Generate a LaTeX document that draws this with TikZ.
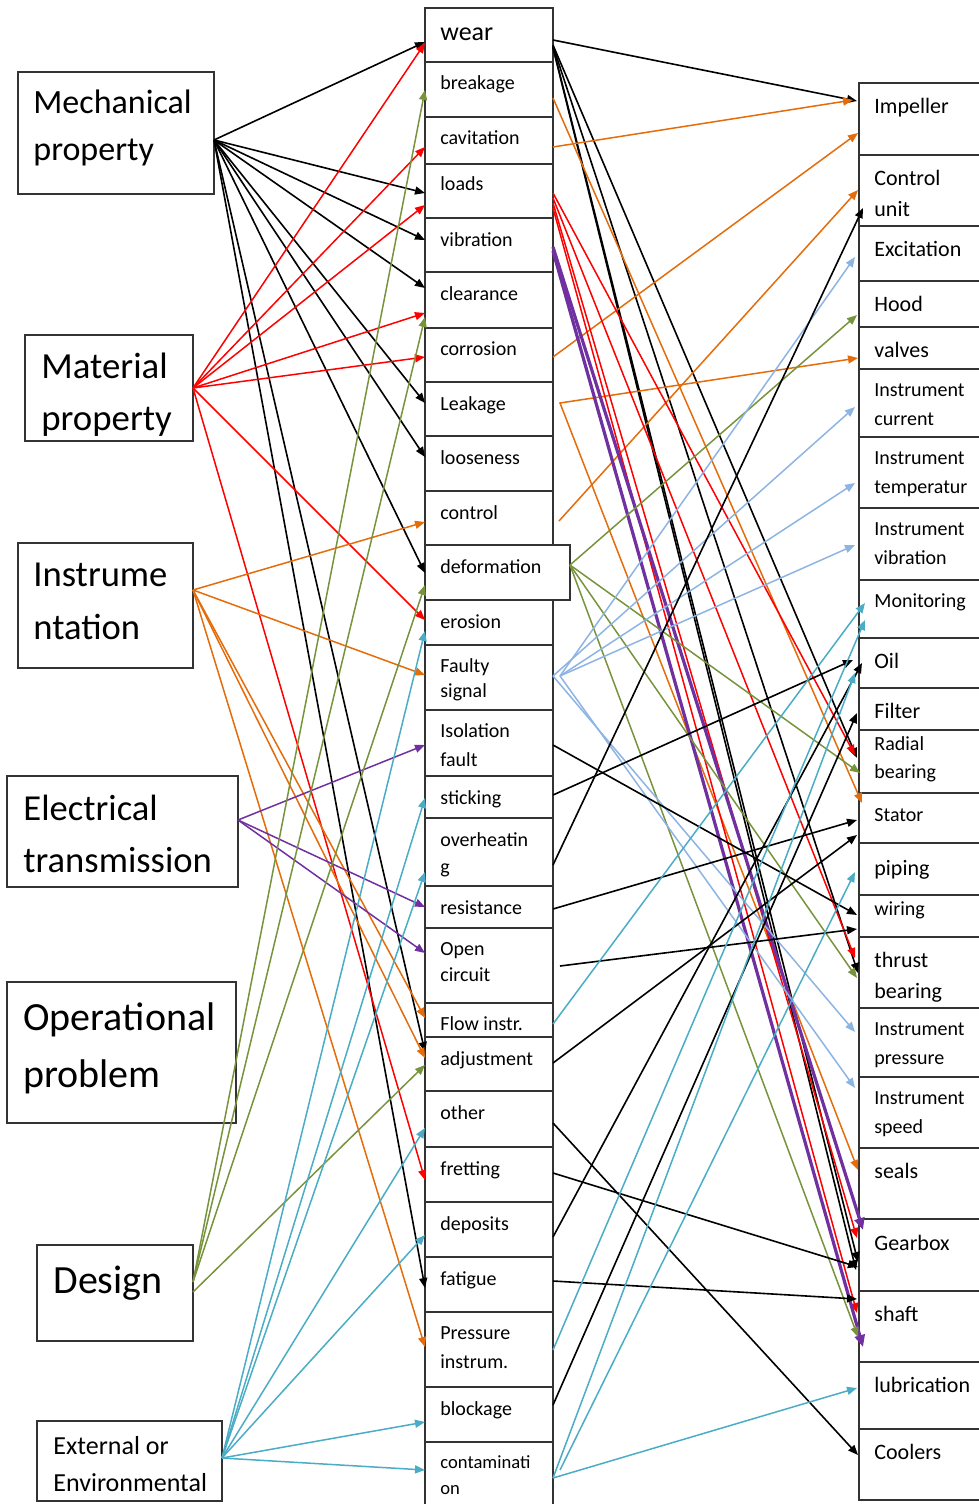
\documentclass[tikz,border=0pt]{standalone}
\usepackage{fontspec}
\setmainfont{Carlito}
\usetikzlibrary{arrows.meta,calc}
\definecolor{cRed}{RGB}{255,0,0}
\definecolor{cOrange}{RGB}{228,108,10}
\definecolor{cGreen}{RGB}{119,147,60}
\definecolor{cPurple}{RGB}{112,48,160}
\definecolor{cCyan}{RGB}{75,172,198}
\definecolor{cLblue}{RGB}{141,180,226}
\newcommand\mkbox[5]{\node[box, minimum width=#4*0.5pt, minimum height=#5*0.5pt] (#1) at (#2,#3) {};}
\newcommand\lk[5]{\draw[#1] ($(#2)+(#3)$) -- ($(#4)+(#5)$);}
\tikzset{
  box/.style={draw=black!80, line width=0.7pt, fill=white, inner sep=0pt, outer sep=0pt, anchor=north west},
  con/.style={line width=0.75pt, -{Triangle[length=5pt,width=4pt]}},
  cbk/.style={con, color=black, line width=0.8pt},
  crd/.style={con, color=cRed},
  cor/.style={con, color=cOrange},
  cgr/.style={con, color=cGreen},
  cpu/.style={con, color=cPurple, line width=1.6pt, -{Triangle[length=6pt,width=5pt]}},
  cpt/.style={con, color=cPurple},
  ccy/.style={con, color=cCyan},
  clb/.style={con, color=cLblue},
  tm/.style={anchor=base west, inner sep=0pt, font=\fontsize{10}{12}\selectfont},
  tr/.style={anchor=base west, inner sep=0pt, font=\fontsize{11}{13}\selectfont},
  ti/.style={anchor=base west, inner sep=0pt, font=\fontsize{10}{12}\selectfont},
  tl/.style={anchor=base west, inner sep=0pt, font=\fontsize{18.3}{22}\selectfont},
}
\begin{document}
\begin{tikzpicture}[x=0.5pt,y=-0.5pt]
\useasboundingbox (0,0) rectangle (979,1504);
\begin{scope}
\clip (0,0) rectangle (979,1504);
% ---------- left boxes ----------
\mkbox{mp}{18}{72}{196}{122}
\mkbox{mat}{25}{335}{168}{106}
\mkbox{ins}{18}{543}{175}{125}
\mkbox{el}{7}{776}{231}{111}
\mkbox{op}{7}{982}{229}{141}
\mkbox{des}{37}{1245}{156}{96}
\mkbox{ext}{37}{1421}{185}{80}
% ---------- middle column ----------
\mkbox{wear}{425}{8}{128}{54}
\mkbox{brk}{425}{62}{128}{55}
\mkbox{cav}{425}{117}{128}{47}
\mkbox{lds}{425}{164}{128}{54}
\mkbox{vib}{425}{218}{128}{54}
\mkbox{clr}{425}{272}{128}{56}
\mkbox{cor}{425}{328}{128}{54}
\mkbox{leak}{425}{382}{128}{54}
\mkbox{loose}{425}{436}{128}{55}
\mkbox{ctrl}{425}{491}{128}{54}
\mkbox{ero}{425}{600}{128}{45}
\mkbox{fs}{425}{645}{128}{65}
\mkbox{iso}{425}{710}{128}{66}
\mkbox{stk}{425}{776}{128}{42}
\mkbox{ovh}{425}{818}{128}{68}
\mkbox{res}{425}{886}{128}{42}
\mkbox{opn}{425}{928}{128}{75}
\mkbox{flw}{425}{1003}{128}{34}
\mkbox{adj}{425}{1037}{128}{54}
\mkbox{oth}{425}{1091}{128}{56}
\mkbox{frt}{425}{1147}{128}{55}
\mkbox{dep}{425}{1202}{128}{55}
\mkbox{fat}{425}{1257}{128}{55}
\mkbox{prs}{425}{1312}{128}{75}
\mkbox{blk}{425}{1387}{128}{55}
\mkbox{cnt}{425}{1442}{128}{70}
\mkbox{def}{425}{545}{145}{55}
% ---------- right column ----------
\mkbox{imp}{859}{83}{140}{72}
\mkbox{cu}{859}{155}{140}{71}
\mkbox{exc}{859}{226}{140}{55}
\mkbox{hood}{859}{281}{140}{46}
\mkbox{valv}{859}{327}{140}{42}
\mkbox{icur}{859}{369}{140}{68}
\mkbox{itmp}{859}{437}{140}{71}
\mkbox{ivib}{859}{508}{140}{72}
\mkbox{mon}{859}{580}{140}{58}
\mkbox{oil}{859}{638}{140}{50}
\mkbox{filt}{859}{688}{140}{42}
\mkbox{rad}{859}{730}{140}{63}
\mkbox{stat}{859}{793}{140}{50}
\mkbox{pip}{859}{843}{140}{52}
\mkbox{wir}{859}{895}{140}{42}
\mkbox{thr}{859}{937}{140}{71}
\mkbox{iprs}{859}{1008}{140}{69}
\mkbox{ispd}{859}{1077}{140}{71}
\mkbox{seal}{859}{1148}{140}{71}
\mkbox{gear}{859}{1219}{140}{72}
\mkbox{shft}{859}{1291}{140}{71}
\mkbox{lub}{859}{1362}{140}{67}
\mkbox{cool}{859}{1429}{140}{71}
% ---------- labels: left ----------
\node[tl, font=\fontsize{17}{20}\selectfont] (l1a) at (33,114) {Mechanical};
\node[tl, font=\fontsize{17}{20}\selectfont] (l1b) at (33,161) {property};
\node[tl, font=\fontsize{18.4}{22}\selectfont] (l2a) at (41,378) {Material};
\node[tl, font=\fontsize{18.4}{22}\selectfont] (l2b) at (41,430) {property};
\node[tl] (l3a) at (33,586) {Instrume};
\node[tl] (l3b) at (33,639) {ntation};
\node[tl] (l4a) at (23,820) {Electrical};
\node[tl] (l4b) at (23,872) {transmission};
\node[tl, font=\fontsize{20}{24}\selectfont] (l5a) at (23,1030) {Operational};
\node[tl, font=\fontsize{20}{24}\selectfont] (l5b) at (23,1087) {problem};
\node[tl, font=\fontsize{20}{24}\selectfont] (l6a) at (53,1293) {Design};
\node[tl, font=\fontsize{13}{15}\selectfont] (l7a) at (53,1454) {External or};
\node[tl, font=\fontsize{13}{15}\selectfont] (l7b) at (53,1491) {Environmental};
% ---------- labels: middle ----------
\node[tm, font=\fontsize{13}{15}\selectfont] (m1) at (440,41) {wear};
\node[tm] (m2) at (440,90) {breakage};
\node[tm] (m3) at (440,144) {cavitation};
\node[tm] (m4) at (440,191) {loads};
\node[tm] (m5) at (440,246) {vibration};
\node[tm] (m6) at (440,300) {clearance};
\node[tm] (m7) at (440,355) {corrosion};
\node[tm] (m8) at (440,410) {Leakage};
\node[tm] (m9) at (440,464) {looseness};
\node[tm] (m10) at (440,519) {control};
\node[tm] (m11) at (440,573) {deformation};
\node[tm] (m12) at (440,628) {erosion};
\node[tm] (m13a) at (440,672) {Faulty};
\node[tm] (m13b) at (440,697) {signal};
\node[tm] (m14a) at (440,737) {Isolation};
\node[tm] (m14b) at (440,766) {fault};
\node[tm] (m15) at (440,804) {sticking};
\node[tm] (m16a) at (440,846) {overheatin};
\node[tm] (m16b) at (440,873) {g};
\node[tm] (m17) at (440,914) {resistance};
\node[tm] (m18a) at (440,955) {Open};
\node[tm] (m18b) at (440,981) {circuit};
\node[tm] (m19) at (440,1030) {Flow instr.};
\node[tm] (m20) at (440,1065) {adjustment};
\node[tm] (m21) at (440,1119) {other};
\node[tm] (m22) at (440,1175) {fretting};
\node[tm] (m23) at (440,1230) {deposits};
\node[tm] (m24) at (440,1285) {fatigue};
\node[tm] (m25a) at (440,1339) {Pressure};
\node[tm] (m25b) at (440,1368) {instrum.};
\node[tm] (m26) at (440,1415) {blockage};
\node[tm, font=\fontsize{9.3}{11}\selectfont] (m27a) at (440,1468) {contaminati};
\node[tm, font=\fontsize{9.3}{11}\selectfont] (m27b) at (440,1494) {on};
% ---------- labels: right ----------
\node[tr] (r1) at (874,113) {Impeller};
\node[tr] (r2a) at (874,185) {Control};
\node[tr] (r2b) at (874,216) {unit};
\node[tr] (r3) at (874,256) {Excitation};
\node[tr] (r4) at (874,311) {Hood};
\node[tr] (r5) at (874,357) {valves};
\node[ti] (r6a) at (874,396) {Instrument};
\node[ti] (r6b) at (874,425) {current};
\node[ti] (r7a) at (874,464) {Instrument};
\node[ti] (r7b) at (874,493) {temperatur};
\node[ti] (r8a) at (874,535) {Instrument};
\node[ti] (r8b) at (874,564) {vibration};
\node[ti] (r9) at (874,607) {Monitoring};
\node[tr] (r10) at (874,668) {Oil};
\node[tr] (r11) at (874,718) {Filter};
\node[ti] (r12a) at (874,750) {Radial};
\node[ti] (r12b) at (874,778) {bearing};
\node[ti] (r13) at (874,821) {Stator};
\node[tr] (r14) at (874,875) {piping};
\node[ti] (r15) at (874,915) {wiring};
\node[tr] (r16a) at (874,967) {thrust};
\node[tr] (r16b) at (874,998) {bearing};
\node[ti] (r17a) at (874,1035) {Instrument};
\node[ti] (r17b) at (874,1064) {pressure};
\node[ti] (r18a) at (874,1104) {Instrument};
\node[ti] (r18b) at (874,1133) {speed};
\node[tr] (r19) at (874,1178) {seals};
\node[tr] (r20) at (874,1250) {Gearbox};
\node[tr] (r21) at (874,1321) {shaft};
\node[tr] (r22) at (874,1392) {lubrication};
\node[tr] (r23) at (874,1459) {Coolers};
% ---------- left -> middle ----------
% Mechanical property
\lk{cbk}{mp.north east}{0,68}{wear.north west}{0,34}
\lk{cbk}{mp.north east}{0,68}{lds.north west}{0,29}
\lk{cbk}{mp.north east}{0,68}{vib.north west}{0,22}
\lk{cbk}{mp.north east}{0,68}{clr.north west}{0,16}
\lk{cbk}{mp.north east}{0,68}{leak.north west}{0,21}
\lk{cbk}{mp.north east}{0,68}{loose.north west}{0,21}
\lk{cbk}{mp.north east}{0,68}{def.north west}{0,28}
\lk{cbk}{mp.north east}{0,68}{adj.north west}{0,15}
\lk{cbk}{mp.north east}{0,68}{fat.north west}{0,31}
% Material property
\lk{crd}{mat.north east}{0,53}{wear.north west}{0,35}
\lk{crd}{mat.north east}{0,53}{cav.north west}{0,30}
\lk{crd}{mat.north east}{0,53}{lds.north west}{0,41}
\lk{crd}{mat.north east}{0,53}{clr.north west}{0,41}
\lk{crd}{mat.north east}{0,53}{cor.north west}{0,29}
\lk{crd}{mat.north east}{0,53}{ero.north west}{0,20}
\lk{crd}{mat.north east}{0,53}{frt.north west}{0,33}
% Instrumentation
\lk{cor}{ins.north east}{0,47}{ctrl.north west}{0,31}
\lk{cor}{ins.north east}{0,47}{fs.north west}{0,30}
\lk{cor}{ins.north east}{0,47}{flw.north west}{0,15}
\lk{cor}{ins.north east}{0,47}{adj.north west}{0,21}
\lk{cor}{ins.north east}{0,47}{prs.north west}{0,35}
% Electrical transmission
\lk{cpt}{el.north east}{0,44}{iso.north west}{0,35}
\lk{cpt}{el.north east}{0,44}{res.north west}{0,21}
\lk{cpt}{el.north east}{0,44}{opn.north west}{0,25}
% Design
\lk{cgr}{des.north east}{0,37}{brk.north west}{0,28}
\lk{cgr}{des.north east}{0,37}{clr.north west}{0,45}
\lk{cgr}{des.north east}{0,37}{def.north west}{0,40}
\lk{cgr}{des.north east}{0,47}{adj.north west}{0,28}
% External or Environmental
\lk{ccy}{ext.north east}{0,37}{ero.north west}{0,31}
\lk{ccy}{ext.north east}{0,37}{stk.north west}{0,22}
\lk{ccy}{ext.north east}{0,37}{ovh.north west}{0,54}
\lk{ccy}{ext.north east}{0,37}{oth.north west}{0,37}
\lk{ccy}{ext.north east}{0,37}{dep.north west}{0,33}
\lk{ccy}{ext.north east}{0,37}{blk.north west}{0,35}
\lk{ccy}{ext.north east}{0,37}{cnt.north west}{0,28}
% ---------- middle -> right ----------
% wear
\lk{cbk}{wear.north east}{0,32}{imp.north west}{-2,18}
\lk{cbk}{wear.north east}{0,37}{rad.north west}{-2,28}
\lk{cbk}{wear.north east}{0,38}{thr.north west}{-1,36}
\lk{cbk}{wear.north east}{0,39}{gear.north west}{-1,43}
\lk{cbk}{wear.north east}{0,40}{gear.north west}{-3,51}
% orange
\lk{cor}{brk.north east}{0,36}{stat.north west}{3,10}
\lk{cor}{cav.north east}{0,30}{imp.north west}{-6,17}
\lk{cor}{cor.north east}{0,29}{imp.north west}{-1,50}
\lk{cor}{ctrl.north east}{6,30}{cu.north west}{-1,35}
\draw[cor, {Triangle[length=5pt,width=4pt]}-{Triangle[length=5pt,width=4pt]}]
  ($(valv.north west)+(-1,31)$) -- ($(leak.north east)+(7,21)$) -- ($(seal.north west)+(-1,22)$);
% red (loads)
\lk{crd}{lds.north east}{0,29}{rad.north west}{-4,25}
\lk{crd}{lds.north east}{0,34}{thr.north west}{-4,21}
\lk{crd}{lds.north east}{0,39}{gear.north west}{-2,19}
\lk{crd}{lds.north east}{0,44}{shft.north west}{-2,22}
% purple (vibration)
\lk{cpu}{vib.north east}{0,29}{gear.north west}{4,11}
\lk{cpu}{vib.north east}{0,33}{shft.north west}{4,56}
% green (deformation)
\lk{cgr}{def.north east}{0,20}{hood.north west}{-2,34}
\lk{cgr}{def.north east}{0,20}{rad.north west}{1,43}
\lk{cgr}{def.north east}{0,20}{thr.north west}{-2,41}
\lk{cgr}{def.north east}{0,20}{shft.north west}{-1,46}
% light blue (faulty signal)
\lk{clb}{fs.north east}{7,31}{exc.north west}{-4,31}
\lk{clb}{fs.north east}{0,31}{icur.north west}{-4,38}
\lk{clb}{fs.north east}{7,31}{itmp.north west}{-4,46}
\lk{clb}{fs.north east}{7,31}{ivib.north west}{-4,37}
\lk{clb}{fs.north east}{0,31}{iprs.north west}{-4,24}
\lk{clb}{fs.north east}{7,31}{ispd.north west}{-4,11}
% black lower
\lk{cbk}{iso.north east}{0,35}{wir.north west}{-2,20}
\lk{cbk}{stk.north east}{0,19}{oil.north west}{-6,22}
\lk{cbk}{ovh.north east}{0,47}{cu.north west}{4,53}
\lk{cbk}{res.north east}{0,23}{stat.north west}{-2,27}
\lk{cbk}{opn.north east}{7,38}{wir.north west}{-2,34}
\lk{cbk}{adj.north east}{0,26}{stat.north west}{-2,42}
\lk{cbk}{oth.north east}{0,32}{cool.north west}{-1,26}
\lk{cbk}{frt.north east}{0,26}{gear.north west}{-1,48}
\lk{cbk}{dep.north east}{0,35}{oil.north west}{3,25}
\lk{cbk}{fat.north east}{0,24}{shft.north west}{-2,8}
\lk{cbk}{blk.north east}{0,18}{filt.north west}{-2,25}
% cyan
\lk{ccy}{flw.north east}{0,21}{mon.north west}{6,23}
\lk{ccy}{prs.north east}{0,38}{mon.north west}{6,40}
\lk{ccy}{cnt.north east}{0,36}{oil.north west}{-4,35}
\lk{ccy}{cnt.north east}{7,28}{pip.north west}{-4,29}
\lk{ccy}{cnt.north east}{0,36}{lub.north west}{-2,26}
\end{scope}
\end{tikzpicture}
\end{document}
